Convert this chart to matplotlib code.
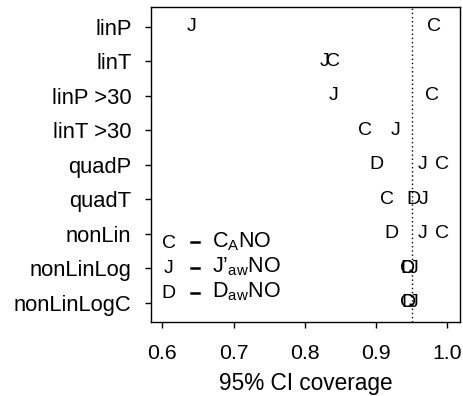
import matplotlib
matplotlib.use("Agg")
import matplotlib.pyplot as plt

plt.rcParams['font.family'] = ['Liberation Sans', 'DejaVu Sans']
plt.rcParams['mathtext.fontset'] = 'custom'
plt.rcParams['mathtext.rm'] = 'Liberation Sans'
plt.rcParams['mathtext.it'] = 'Liberation Sans'

# models, top to bottom
models = ['linP', 'linT', 'linP >30', 'linT >30', 'quadP', 'quadT',
          'nonLin', 'nonLinLog', 'nonLinLogC']
# coverage for each estimator (None = not shown)
cov_C = [0.982, 0.840, 0.979, 0.885, 0.993, 0.915, 0.993, 0.943, 0.944]
cov_J = [0.641, 0.828, 0.840, 0.928, 0.965, 0.966, 0.965, 0.953, 0.953]
cov_D = [None, None, None, None, 0.901, 0.953, 0.921, 0.944, 0.946]

series = [('C', cov_C), ('J', cov_J), ('D', cov_D)]
legend_labels = [r'$\mathregular{C_ANO}$', r'$\mathregular{J’_{aw}NO}$',
                 r'$\mathregular{D_{aw}NO}$']
xticks = [0.6, 0.7, 0.8, 0.9, 1.0]
xtick_labels = ['0.6', '0.7', '0.8', '0.9', '1.0']

fig = plt.figure(figsize=(4.64, 3.96), dpi=100)
ax = fig.add_axes([151 / 464, 1 - 322 / 396, 309 / 464, 315 / 396])

for letter, vals in series:
    for i, v in enumerate(vals):
        if v is None:
            continue
        ax.text(v, i, letter, ha='center', va='center', fontsize=14)

ax.axvline(0.95, color='black', lw=1, linestyle=(0, (1, 2)))

ax.set_xlim(0.5842, 1.0178)
ax.set_ylim(len(models) - 1 + 0.56, -0.58)
ax.set_yticks(range(len(models)))
ax.set_yticklabels(models, fontsize=15.8)
ax.set_xticks(xticks)
ax.set_xticklabels(xtick_labels, fontsize=15.3)
ax.set_xlabel('95% CI coverage', fontsize=16.3, labelpad=6)
ax.tick_params(axis='both', length=4, width=1, direction='out')
ax.tick_params(axis='y', pad=10)
ax.tick_params(axis='x', pad=12)
for s in ax.spines.values():
    s.set_linewidth(1)

# legend drawn as text rows in axes coordinates
for k, (letter, _) in enumerate(series):
    yy = 0.25 - k * 0.08
    ax.text(0.058, yy, letter, transform=ax.transAxes, ha='center',
            va='center', fontsize=14)
    ax.plot([0.129, 0.155], [yy + 0.003, yy + 0.003], transform=ax.transAxes,
            color='black', lw=1.8)
    ax.text(0.196, yy + 0.006, legend_labels[k], transform=ax.transAxes,
            ha='left', va='center', fontsize=15.5)

fig.savefig('out.png', dpi=100)
